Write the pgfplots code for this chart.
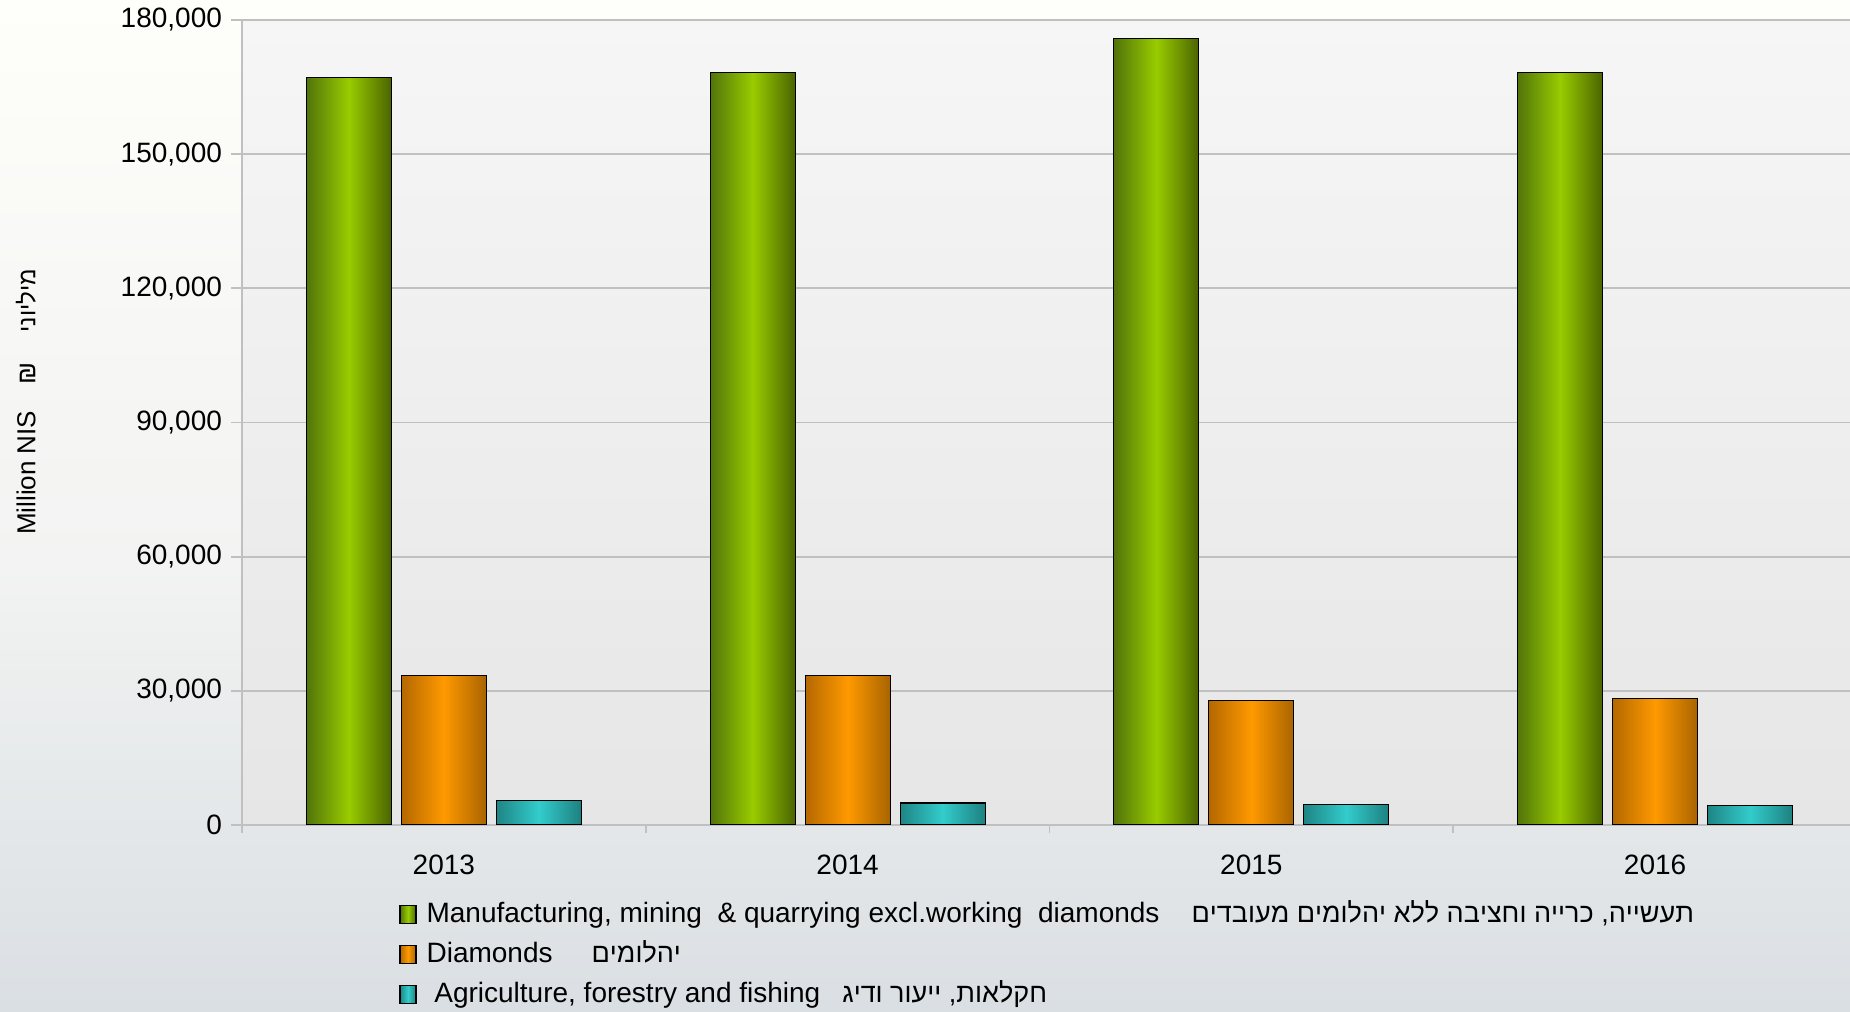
\documentclass[border=0pt]{standalone}
\usepackage{fontspec}
\setmainfont{Liberation Sans}
\usepackage{pgfplots}
\pgfplotsset{compat=1.18}
\TeXXeTstate=1
\definecolor{gridc}{HTML}{C0C0C0}
\definecolor{bgtop}{HTML}{FEFEFA}
\definecolor{bgmid}{HTML}{F2F3F2}
\definecolor{bgbot}{HTML}{DADFE3}
\definecolor{patop}{HTML}{F6F6F6}
\definecolor{pabot}{HTML}{E6E6E6}
\definecolor{gdarkL}{HTML}{52740A}
\definecolor{glight}{HTML}{99CC00}
\definecolor{gdarkR}{HTML}{4A6400}
\definecolor{odarkL}{HTML}{B46800}
\definecolor{olight}{HTML}{FF9900}
\definecolor{odarkR}{HTML}{A86400}
\definecolor{tdarkL}{HTML}{1F8585}
\definecolor{tlight}{HTML}{33CCCC}
\definecolor{tdarkR}{HTML}{1E8080}
\pgfdeclareverticalshading{bgshade}{100bp}{color(0bp)=(bgbot); color(25bp)=(bgbot); color(47bp)=(bgmid); color(75bp)=(bgtop); color(100bp)=(bgtop)}
\pgfdeclareverticalshading{pashade}{100bp}{color(0bp)=(pabot); color(25bp)=(pabot); color(75bp)=(patop); color(100bp)=(patop)}
\pgfplotsset{
  barbase/.style={ybar, bar width=42.5pt, draw=black, line width=0.6pt},
  gbar/.style={barbase, bar shift=-47.5pt, left color=gdarkL, right color=gdarkR, middle color=glight},
  obar/.style={barbase, bar shift=0pt, left color=odarkL, right color=odarkR, middle color=olight},
  tbar/.style={barbase, bar shift=47.5pt, left color=tdarkL, right color=tdarkR, middle color=tlight},
}
\newcommand{\heb}[1]{{\fontsize{13.5}{15}\selectfont\beginR #1\endR}}
\begin{document}
\begin{tikzpicture}
\shade[shading=bgshade] (0,0) rectangle (925pt,505.5pt);
\useasboundingbox (0,0) rectangle (925pt,505.5pt);
\begin{axis}[
  at={(121pt,93pt)}, anchor=south west,
  scale only axis, width=804pt, height=402.5pt,
  xmin=-0.5, xmax=3.4827, ymin=0, ymax=180000,
  axis background/.style={shading=pashade},
  axis x line*=bottom, axis y line*=left,
  axis line style={gridc, line width=0.9pt},
  xtick={0,1,2,3}, xticklabels={2013,2014,2015,2016},
  minor xtick={-0.5,0.5,1.5,2.5},
  ytick={0,30000,60000,90000,120000,150000,180000},
  scaled y ticks=false,
  /pgf/number format/.cd, fixed, assume math mode=true, 1000 sep={,},
  /pgfplots/.cd,
  tick align=outside,
  major tick length=5.5pt, minor tick length=4pt,
  xtick style={draw=none},
  minor x tick style={draw=gridc, line width=0.9pt},
  ytick style={draw=gridc, line width=0.9pt},
  ymajorgrids, grid style={gridc, line width=0.9pt},
  tick label style={font=\fontsize{14}{16}\selectfont, text=black},
  yticklabel style={xshift=-1pt},
  xticklabel style={yshift=-6pt},
  legend cell align=left,
  legend style={at={(0.0939,-0.0893)}, anchor=north west, draw=none, fill=none,
    font=\fontsize{14}{16}\selectfont, row sep=6.5pt,
    nodes={inner sep=0pt, text height=10.5pt, text depth=3pt},
    /tikz/every odd column/.append style={column sep=5pt}},
  legend image code/.code={\draw[#1, line width=0.6pt] (0pt,-4.5pt) rectangle (8pt,4.5pt);},
]
% 2013 (these three carry the legend)
\addplot[gbar] coordinates {(0,167100)};
\addplot[obar] coordinates {(0,33400)};
\addplot[tbar] coordinates {(0,5430)};
% 2014
\addplot[gbar, forget plot] coordinates {(1,168300)};
\addplot[obar, forget plot] coordinates {(1,33450)};
\addplot[tbar, forget plot] coordinates {(1,4920)};
% 2015
\addplot[gbar, forget plot] coordinates {(2,175800)};
\addplot[obar, forget plot] coordinates {(2,27850)};
\addplot[tbar, forget plot] coordinates {(2,4600)};
% 2016
\addplot[gbar, forget plot] coordinates {(3,168300)};
\addplot[obar, forget plot] coordinates {(3,28300)};
\addplot[tbar, forget plot] coordinates {(3,4300)};
\legend{{Manufacturing, mining\ \ \& quarrying excl.working\ \ diamonds\hspace{16pt}\heb{תעשייה, כרייה וחציבה ללא יהלומים מעובדים}},
  {Diamonds\hspace{19.5pt}\heb{יהלומים}},
  {\ Agriculture, forestry and fishing\hspace{11pt}\heb{חקלאות, ייעור ודיג}}}
\end{axis}
\node[rotate=90, font=\fontsize{13}{15}\selectfont] at (13pt,304.5pt) {Million NIS\hspace{13pt}₪\hspace{15pt}{\fontsize{12}{14}\selectfont\beginR מיליוני\endR}};
\end{tikzpicture}
\end{document}
